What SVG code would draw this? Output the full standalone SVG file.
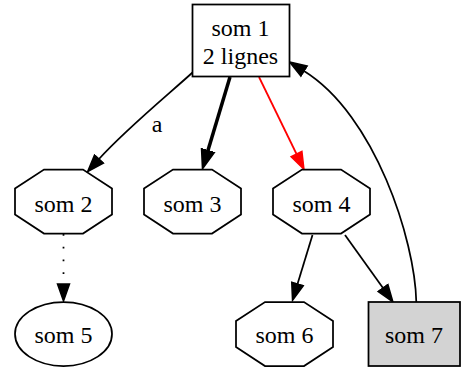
<svg xmlns="http://www.w3.org/2000/svg" width="462" height="368" viewBox="0 0 462 368">
  <style>
    text { font-family: 'Liberation Serif', 'Times New Roman', serif; font-size: 24px; text-anchor: middle; fill: #000; }
    .shape { fill: #fff; stroke: #000; stroke-width: 1.75; }
    .grey { fill: #d3d3d3; }
    .edge { fill: none; stroke: #000; stroke-width: 1.75; }
    .bold { stroke-width: 3.5; }
    .red { stroke: #ff0000; }
    .dotted { stroke-dasharray: 1.75 11; }
  </style>
  <defs>
    <!-- octagon centred on the origin -->
    <polygon id="oct" points="-19.5,-32 19.5,-32 48.5,-13 48.5,13 19.5,32 -19.5,32 -48.5,13 -48.5,-13"/>
    <marker id="arr" markerUnits="userSpaceOnUse" markerWidth="20" markerHeight="16" viewBox="0 -8 18 16" refX="0" refY="0" orient="auto">
      <polygon points="0,-6 17,0 0,6" fill="#000" stroke="#000" stroke-width="1.5"/>
    </marker>
    <marker id="arrBold" markerUnits="userSpaceOnUse" markerWidth="20" markerHeight="16" viewBox="0 -8 18 16" refX="0" refY="0" orient="auto">
      <polygon points="0,-6 17,0 0,6" fill="#000" stroke="#000" stroke-width="2.5"/>
    </marker>
    <marker id="arrRed" markerUnits="userSpaceOnUse" markerWidth="20" markerHeight="16" viewBox="0 -8 18 16" refX="0" refY="0" orient="auto">
      <polygon points="0,-6 17,0 0,6" fill="#ff0000" stroke="#ff0000" stroke-width="1.5"/>
    </marker>
  </defs>

  <g id="edges">
    <path class="edge" d="M192.5,72.5 C170,93 125,130 99,159" marker-end="url(#arr)"/>
    <text x="157" y="132" font-family="Liberation Serif, serif">a</text>
    <path class="edge bold" d="M230,77 L207.8,151" marker-end="url(#arrBold)"/>
    <path class="edge red" d="M259,77 L296.5,154" marker-end="url(#arrRed)"/>
    <path class="edge dotted" d="M63.5,234 L63.5,284" marker-end="url(#arr)"/>
    <path class="edge" d="M312.5,235 L297.5,284" marker-end="url(#arr)"/>
    <path class="edge" d="M345,235 L383,288" marker-end="url(#arr)"/>
    <path class="edge" d="M416.3,302 C415,240 375,115 304,71" marker-end="url(#arr)"/>
  </g>

  <g id="som1">
    <rect class="shape" x="192.5" y="4.5" width="97" height="72"/>
    <text x="240.5" y="36">som 1</text>
    <text x="240.5" y="63.5">2 lignes</text>
  </g>
  <g id="som2">
    <use href="#oct" class="shape" x="63.5" y="201.5"/>
    <text x="63.5" y="211.5">som 2</text>
  </g>
  <g id="som3">
    <use href="#oct" class="shape" x="192.5" y="201.5"/>
    <text x="192.5" y="211.5">som 3</text>
  </g>
  <g id="som4">
    <use href="#oct" class="shape" x="321.5" y="201.5"/>
    <text x="321.5" y="211.5">som 4</text>
  </g>
  <g id="som5">
    <ellipse class="shape" cx="63.5" cy="334" rx="48.5" ry="32"/>
    <text x="63.5" y="343">som 5</text>
  </g>
  <g id="som6">
    <use href="#oct" class="shape" x="284.5" y="334"/>
    <text x="284.5" y="343">som 6</text>
  </g>
  <g id="som7">
    <rect class="shape grey" x="368.5" y="302" width="91.5" height="64"/>
    <text x="414" y="343">som 7</text>
  </g>
</svg>
